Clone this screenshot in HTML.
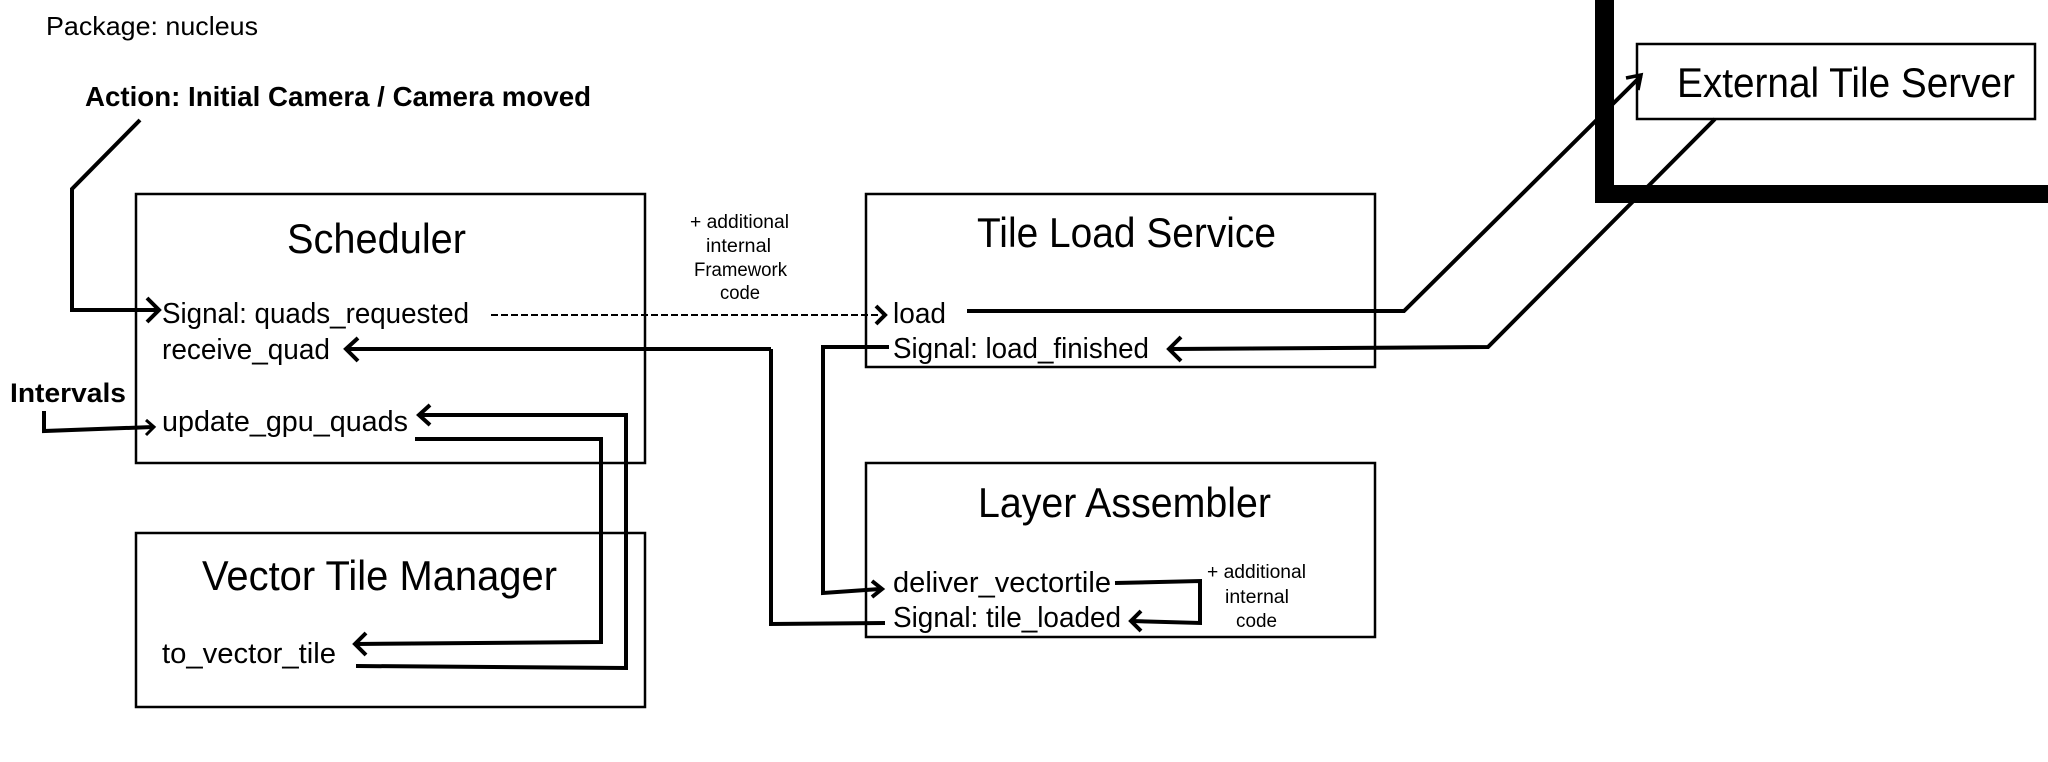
<!DOCTYPE html>
<html><head><meta charset="utf-8"><style>
html,body{margin:0;padding:0;background:#fff;}
svg{display:block;}
text{font-family:"Liberation Sans",sans-serif;fill:#000;}
.b{font-weight:bold;}
</style></head><body>
<svg width="2048" height="762" viewBox="0 0 2048 762" xmlns="http://www.w3.org/2000/svg">
<rect width="2048" height="762" fill="#fff"/>
<!-- thick L -->
<rect x="1595" y="0" width="19" height="203" fill="#000"/>
<rect x="1595" y="185" width="453" height="18" fill="#000"/>
<!-- boxes -->
<g fill="#fff" stroke="#000" stroke-width="2.5">
<rect x="136" y="194" width="509" height="269"/>
<rect x="136" y="533" width="509" height="174"/>
<rect x="866" y="194" width="509" height="173"/>
<rect x="866" y="463" width="509" height="174"/>
<rect x="1637" y="44" width="398" height="75"/>
</g>
<!-- texts -->
<text x="46" y="35" font-size="26" textLength="212" lengthAdjust="spacingAndGlyphs">Package: nucleus</text>
<text x="85" y="106" font-size="28" class="b" textLength="506" lengthAdjust="spacingAndGlyphs">Action: Initial Camera / Camera moved</text>
<text x="10" y="402" font-size="27" class="b" textLength="116" lengthAdjust="spacingAndGlyphs">Intervals</text>
<text x="287" y="253" font-size="42" textLength="179" lengthAdjust="spacingAndGlyphs">Scheduler</text>
<text x="162" y="323" font-size="29" textLength="307" lengthAdjust="spacingAndGlyphs">Signal: quads_requested</text>
<text x="162" y="359" font-size="29" textLength="168" lengthAdjust="spacingAndGlyphs">receive_quad</text>
<text x="162" y="431" font-size="29" textLength="246" lengthAdjust="spacingAndGlyphs">update_gpu_quads</text>
<text x="202" y="590" font-size="42" textLength="355" lengthAdjust="spacingAndGlyphs">Vector Tile Manager</text>
<text x="162" y="663" font-size="29" textLength="174" lengthAdjust="spacingAndGlyphs">to_vector_tile</text>
<text x="977" y="247" font-size="42" textLength="299" lengthAdjust="spacingAndGlyphs">Tile Load Service</text>
<text x="893" y="323" font-size="29" textLength="53" lengthAdjust="spacingAndGlyphs">load</text>
<text x="893" y="358" font-size="29" textLength="256" lengthAdjust="spacingAndGlyphs">Signal: load_finished</text>
<text x="978" y="517" font-size="42" textLength="293" lengthAdjust="spacingAndGlyphs">Layer Assembler</text>
<text x="893" y="592" font-size="29" textLength="218" lengthAdjust="spacingAndGlyphs">deliver_vectortile</text>
<text x="893" y="627" font-size="29" textLength="228" lengthAdjust="spacingAndGlyphs">Signal: tile_loaded</text>
<text x="1677" y="97" font-size="42" textLength="338" lengthAdjust="spacingAndGlyphs">External Tile Server</text>
<g font-size="19">
<text x="690" y="228" textLength="99" lengthAdjust="spacingAndGlyphs">+ additional</text>
<text x="706" y="252" textLength="65" lengthAdjust="spacingAndGlyphs">internal</text>
<text x="694" y="276" textLength="93" lengthAdjust="spacingAndGlyphs">Framework</text>
<text x="720" y="299" textLength="40" lengthAdjust="spacingAndGlyphs">code</text>
<text x="1207" y="578" textLength="99" lengthAdjust="spacingAndGlyphs">+ additional</text>
<text x="1225" y="603" textLength="64" lengthAdjust="spacingAndGlyphs">internal</text>
<text x="1236" y="627" textLength="41" lengthAdjust="spacingAndGlyphs">code</text>
</g>
<!-- connectors -->
<g fill="none" stroke="#000" stroke-width="4" stroke-linejoin="miter">
<polyline points="140,120 72,189 72,310 157,310"/>
<polyline points="147,298 159,310 147,322"/>
<polyline points="44,411 44,431 153,427"/>
<polyline points="146,420 154,427 146,435" stroke-width="3"/>
<polyline points="771,349 349,349"/>
<polyline points="358,338 346,349 358,361"/>
<polyline points="771,349 771,624 885,623"/>
<polyline points="889,347 823,347 823,593 880,589"/>
<polyline points="872,581 882,589 872,597"/>
<polyline points="421,415 626,415 626,668 356,666"/>
<polyline points="430,405 419,415 430,425"/>
<polyline points="415,439 601,439 601,642 356,644"/>
<polyline points="366,633 355,644 366,655"/>
<polyline points="967,311 1404,311 1641,76"/>
<polyline points="1626,78 1641,75 1638,90" stroke-width="3.5"/>
<polyline points="1715,119 1488,347 1171,349"/>
<polyline points="1181,337 1169,349 1181,361"/>
<polyline points="1115,583 1200,581 1200,623 1132,621"/>
<polyline points="1141,611 1131,621 1141,631"/>
</g>
<line x1="491" y1="315" x2="880" y2="315" stroke="#000" stroke-width="2" stroke-dasharray="7,3"/>
<polyline points="876,306 885,315 876,324" fill="none" stroke="#000" stroke-width="4"/>
</svg>
</body></html>
